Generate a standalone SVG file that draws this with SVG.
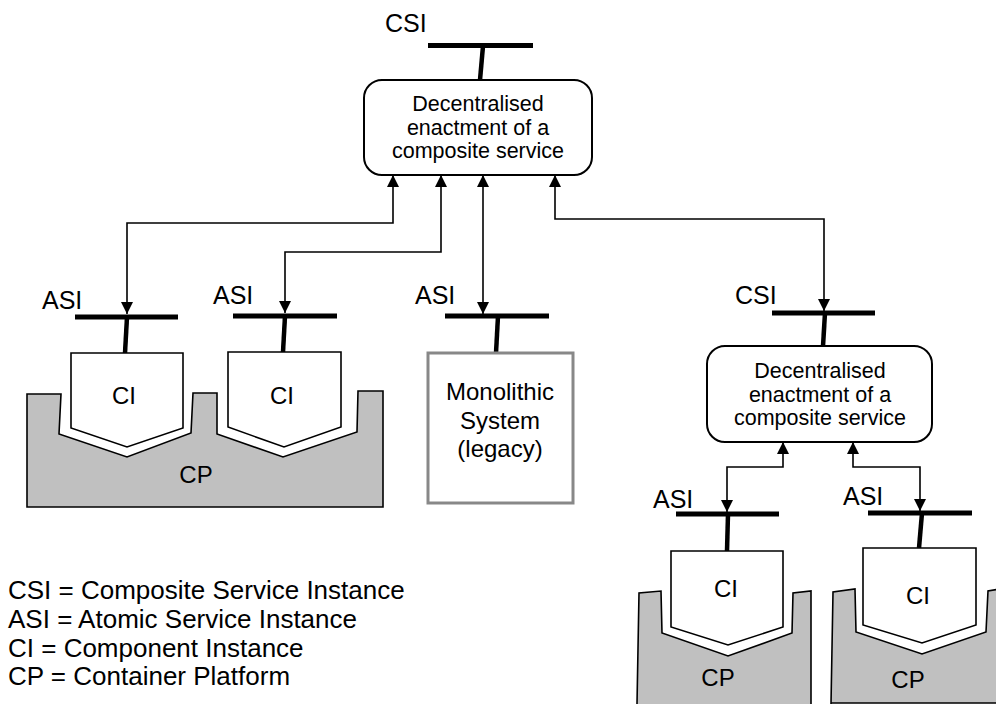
<svg xmlns="http://www.w3.org/2000/svg" width="996" height="704" viewBox="0 0 996 704">
<defs>
<marker id="ah" viewBox="0 0 12 12" refX="12" refY="6" markerWidth="12" markerHeight="13" markerUnits="userSpaceOnUse" orient="auto-start-reverse">
<path d="M0,0 L12,6 L0,12 z" fill="#000"/>
</marker>
</defs>
<style>
text{font-family:"Liberation Sans",Arial,sans-serif;fill:#000}
.lbl{font-size:25px}
.leg{font-size:26px}
.bt{font-size:21.5px;text-anchor:middle}
.mid{text-anchor:middle;font-size:24px}
.mono{text-anchor:middle;font-size:24px}
.bar{stroke:#000;stroke-width:5;fill:none}
.stem{stroke:#000;stroke-width:4.5;fill:none}
.box{fill:#fff;stroke:#000;stroke-width:2}
.ci{fill:#fff;stroke:#000;stroke-width:1.6}
.cp{fill:#c0c0c0;stroke:#000;stroke-width:1.6}
.conn{fill:none;stroke:#000;stroke-width:1.6;marker-start:url(#ah);marker-end:url(#ah)}
</style>
<rect width="996" height="704" fill="#fff"/>

<g id="csi-top">
<text class="lbl" x="385" y="32">CSI</text>
<line class="bar" x1="428" y1="45.5" x2="533" y2="45.5"/>
<line class="stem" x1="483" y1="46" x2="480" y2="80"/>
</g>
<g id="enactment-top">
<rect class="box" x="364" y="80" width="228" height="95" rx="18"/>
<text class="bt" x="478" y="111">Decentralised</text>
<text class="bt" x="478" y="135">enactment of a</text>
<text class="bt" x="478" y="158">composite service</text>
</g>

<g id="cp-left">
<path class="cp" d="M27,394 L61,394 L59,434 L127,457 L191,433 L193,393 L217,393 L217,434 L283,457 L357,432 L358,391 L383,391 L383,507 L27,507 Z"/>
<text class="mid" x="196" y="483">CP</text>
</g>
<g id="asi-1">
<text class="lbl" x="42" y="309">ASI</text>
<line class="bar" x1="75" y1="317" x2="178" y2="317"/>
<line class="stem" x1="127" y1="317" x2="125" y2="353"/>
</g>
<g id="ci-1">
<path class="ci" d="M71,353 L183,353 L183,428 L127,447 L71,428 Z"/>
<text class="mid" x="124" y="404">CI</text>
</g>
<g id="asi-2">
<text class="lbl" x="213" y="304">ASI</text>
<line class="bar" x1="233" y1="316" x2="337" y2="316"/>
<line class="stem" x1="285" y1="316" x2="283" y2="352"/>
</g>
<g id="ci-2">
<path class="ci" d="M228,352 L341,352 L341,427 L284,447 L228,427 Z"/>
<text class="mid" x="282" y="404">CI</text>
</g>

<g id="asi-3">
<text class="lbl" x="415" y="304">ASI</text>
<line class="bar" x1="445" y1="316" x2="549" y2="316"/>
<line class="stem" x1="498" y1="316" x2="496" y2="353"/>
</g>
<g id="monolithic">
<rect x="428" y="353" width="145" height="150" fill="#fff" stroke="#888" stroke-width="3"/>
<text class="mono" x="500" y="400">Monolithic</text>
<text class="mono" x="500" y="428.5">System</text>
<text class="mono" x="500" y="457">(legacy)</text>
</g>

<g id="csi-right">
<text class="lbl" x="735" y="304">CSI</text>
<line class="bar" x1="772" y1="313" x2="875" y2="313"/>
<line class="stem" x1="825" y1="313" x2="823" y2="346"/>
</g>
<g id="enactment-right">
<rect class="box" x="707" y="346" width="225" height="96" rx="18"/>
<text class="bt" x="820" y="378">Decentralised</text>
<text class="bt" x="820" y="402">enactment of a</text>
<text class="bt" x="820" y="425">composite service</text>
</g>

<g id="cp-r1">
<path class="cp" d="M637,704 L639,593 L661,591 L662,633 L728,656 L792,633 L793,593 L811,591 L811,704"/>
<text class="mid" x="718" y="686">CP</text>
</g>
<g id="asi-r1">
<text class="lbl" x="653" y="508">ASI</text>
<line class="bar" x1="676" y1="514" x2="779" y2="514"/>
<line class="stem" x1="728" y1="514" x2="727" y2="551"/>
</g>
<g id="ci-r1">
<path class="ci" d="M671,551 L783,551 L783,627 L728,645 L671,627 Z"/>
<text class="mid" x="726" y="597">CI</text>
</g>

<g id="cp-r2">
<path class="cp" d="M831,704 L833,592 L855,589 L856,632 L922,654 L986,632 L988,591 L1000,589 L1000,703 L831,703"/>
<text class="mid" x="908" y="688">CP</text>
</g>
<g id="asi-r2">
<text class="lbl" x="843" y="505">ASI</text>
<line class="bar" x1="868" y1="513" x2="972" y2="513"/>
<line class="stem" x1="922" y1="513" x2="919" y2="548"/>
</g>
<g id="ci-r2">
<path class="ci" d="M863,548 L976,548 L976,625 L922,643 L863,625 Z"/>
<text class="mid" x="918" y="604">CI</text>
</g>

<g id="connectors">
<path class="conn" d="M393,175 V223 H127 V314"/>
<path class="conn" d="M441,175 V252 H285 V313"/>
<path class="conn" d="M483,175 V314"/>
<path class="conn" d="M555,175 V219 H824 V311"/>
<path class="conn" d="M783,442 V467 H727 V512"/>
<path class="conn" d="M853,442 V467 H920 V511"/>
</g>

<g id="legend">
<text class="leg" x="8" y="599">CSI = Composite Service Instance</text>
<text class="leg" x="8" y="628">ASI = Atomic Service Instance</text>
<text class="leg" x="8" y="657">CI = Component Instance</text>
<text class="leg" x="8" y="685">CP = Container Platform</text>
</g>
</svg>
